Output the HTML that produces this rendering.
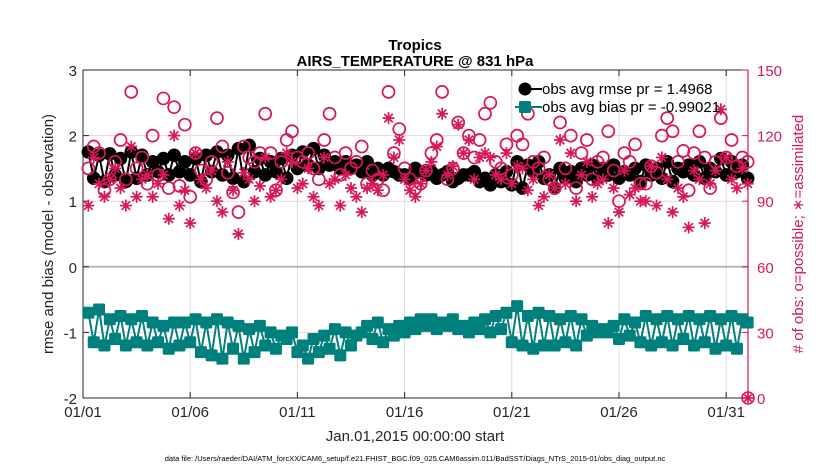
<!DOCTYPE html>
<html><head><meta charset="utf-8"><style>
body{margin:0;background:#fff;}
svg{display:block;font-family:"Liberation Sans",sans-serif;}
</style></head><body>
<svg id="chart" width="830" height="470" viewBox="0 0 830 470"></svg>
<script>
const rmse=[1.75,1.35,1.7,1.3,1.72,1.4,1.65,1.3, 1.75,1.35,1.7,1.4,1.6,1.45,1.65,1.4, 1.7,1.45,1.6,1.4,1.65,1.3,1.7,1.45, 1.75,1.4,1.7,1.35,1.8,1.3,1.85,1.45, 1.65,1.4,1.6,1.45,1.65,1.35,1.7,1.5, 1.75,1.55,1.8,1.5,1.7,1.55,1.6,1.5, 1.6,1.5,1.55,1.45,1.6,1.4,1.5,1.4, 1.5,1.45,1.4,1.4,1.35,1.5,1.45,1.4, 1.45,1.35,1.4,1.45,1.3,1.35,1.4,1.4, 1.45,1.3,1.35,1.25,1.4,1.3,1.45,1.25, 1.6,1.2,1.55,1.45,1.6,1.35,1.4,1.2, 1.5,1.35,1.45,1.3,1.5,1.4,1.55,1.35, 1.5,1.4,1.55,1.35,1.45,1.4,1.5,1.3, 1.55,1.4,1.5,1.35,1.6,1.3,1.5,1.45, 1.55,1.4,1.6,1.35,1.5,1.45,1.65,1.4, 1.6,1.45,1.55,1.35];
const bias=[-0.7,-1.15,-0.65,-1.2,-0.8,-1.1,-0.75,-1.2, -0.8,-1.15,-0.75,-1.2,-0.85,-1.15,-0.9,-1.25, -0.85,-1.2,-0.85,-1.15,-0.8,-1.3,-0.85,-1.35, -0.8,-1.4,-0.85,-1.25,-0.9,-1.4,-0.95,-1.3, -0.9,-1.2,-1.0,-1.25,-1.05,-1.1,-1.0,-1.3, -1.2,-1.4,-1.1,-1.3,-1.05,-1.25,-0.95,-1.35, -1.0,-1.2,-1.05,-1.0,-0.9,-1.1,-0.85,-1.15, -0.95,-1.05,-0.9,-1.0,-0.85,-0.95,-0.8,-0.9, -0.8,-0.95,-0.85,-0.9,-0.8,-0.95,-0.9,-1.0, -0.85,-0.95,-0.8,-1.0,-0.75,-0.95,-0.7,-1.15, -0.6,-1.2,-0.75,-1.25,-0.7,-1.2,-0.75,-1.2, -0.8,-1.15,-0.75,-1.2,-0.8,-1.05,-0.9,-1.0, -0.95,-1.0,-0.9,-1.1,-0.8,-1.05,-0.85,-1.15, -0.75,-1.2,-0.8,-1.15,-0.75,-1.2,-0.8,-1.1, -0.75,-1.2,-0.8,-1.15,-0.75,-1.25,-0.8,-1.2, -0.75,-1.25,-0.8,-0.85];
const possible=[105,115,112,95,100,108,118,100, 140,105,110,98,120,102,137,96, 133,97,125,92,112,104,100,108, 128,115,103,94,85,115,110,108, 112,130,112,95,108,118,122,110, 108,112,105,100,118,130,110,102, 112,105,108,115,98,104,100,95, 140,112,123,105,100,96,98,104, 112,118,140,100,105,126,112,120, 110,118,130,135,108,105,116,102, 120,116,130,108,105,110,100,96, 126,105,120,96,112,118,100,108, 110,122,104,90,112,108,116,98, 98,106,103,120,128,122,108,113, 95,112,122,110,96,108,128,110, 118,106,110,108];
const assim=[88,110,98,92,100,105,96,88, 115,92,100,102,92,98,102,82, 120,88,95,80,112,100,96,104, 90,85,108,95,75,103,100,90, 97,110,92,95,100,112,108,96, 98,105,92,88,110,98,100,88, 102,96,92,85,96,98,95,102, 128,110,118,100,95,92,98,104, 108,115,130,102,106,125,112,118, 100,110,112,110,102,100,112,98, 106,105,95,100,88,92,102,96, 118,98,112,90,102,108,92,98, 100,80,96,85,104,93,96,90, 90,106,88,110,100,85,96,92, 78,104,100,80,98,104,132,110, 100,96,105,98];
const xTickLabels=["01/01","01/06","01/11","01/16","01/21","01/26","01/31"];
const xTickDays=[0,5,10,15,20,25,30];
const leftTicks=[-2,-1,0,1,2,3];
const rightTicks=[0,30,60,90,120,150];

const L=83,R=748,T=70,B=398;
const X=d=>L+d*21.44;
const YL=v=>B-(v+2)/5*(B-T);
const YR=v=>B-v/150*(B-T);
const MAG="#d6175a",TEAL="#00807c";
const svg=document.getElementById('chart');
const NS="http://www.w3.org/2000/svg";
function mk(tag,attrs,parent){const e=document.createElementNS(NS,tag);for(const k in attrs)e.setAttribute(k,attrs[k]);(parent||svg).appendChild(e);return e;}
function txt(s,attrs){const e=mk('text',attrs);e.textContent=s;return e;}

xTickDays.forEach(d=>{const g=mk('line',{x1:X(d),x2:X(d),y1:T,y2:B,stroke:'#dddddd','stroke-width':1});

});
rightTicks.forEach(v=>{if(v===60||v===0||v===150)return;const g=mk('line',{x1:L,x2:R,y1:YR(v),y2:YR(v),stroke:'#f0d0dc','stroke-width':1});

});
const zl=mk('line',{x1:L,x2:R,y1:YL(0),y2:YL(0),stroke:'#b8b8b8','stroke-width':2});



const fr=mk('path',{d:`M${L},${B}V${T}H${R}`,fill:'none',stroke:'#262626','stroke-width':1});


const xb=mk('line',{x1:L,x2:R,y1:B,y2:B,stroke:'#262626','stroke-width':1});


const ra=mk('line',{x1:R,x2:R,y1:T,y2:B,stroke:MAG,'stroke-width':1.2});



xTickDays.forEach((d,i)=>{
 const t=mk('line',{x1:X(d),x2:X(d),y1:B,y2:B-6,stroke:'#262626'});
 
 
 const t2=mk('line',{x1:X(d),x2:X(d),y1:T,y2:T+6,stroke:'#262626'});
 
 
 const l=txt(xTickLabels[i],{x:X(d),y:B+19,'text-anchor':'middle','font-size':15,fill:'#262626'});
 
 
});
leftTicks.forEach(v=>{
 const t=mk('line',{x1:L,x2:L+6,y1:YL(v),y2:YL(v),stroke:'#262626'});
 
 
 const l=txt(String(v),{x:L-6,y:YL(v)+6,'text-anchor':'end','font-size':15,fill:'#262626'});
 
 
});
rightTicks.forEach(v=>{
 const t=mk('line',{x1:R-6,x2:R,y1:YR(v),y2:YR(v),stroke:MAG});
 
 
 const l=txt(String(v),{x:R+9,y:YR(v)+6,'font-size':15,fill:MAG});
 
 
});

const days=rmse.map((_,i)=>(i+1)*0.25);
function star(x,y,r,parent){const g=mk('g',{stroke:MAG,'stroke-width':1.7},parent);
 for(let k=0;k<4;k++){const a=k*Math.PI/4;mk('line',{x1:x-r*Math.cos(a),y1:y-r*Math.sin(a),x2:x+r*Math.cos(a),y2:y+r*Math.sin(a)},g);}return g;}

const gR=mk('g',{});


mk('polyline',{points:rmse.map((v,i)=>X(days[i])+','+YL(v)).join(' '),fill:'none',stroke:'#000','stroke-width':2},gR);
rmse.forEach((v,i)=>{const c=mk('circle',{cx:X(days[i]),cy:YL(v),r:6.8,fill:'#000'},gR);
 
 });
const gB=mk('g',{});


mk('polyline',{points:bias.map((v,i)=>X(days[i])+','+YL(v)).join(' '),fill:'none',stroke:TEAL,'stroke-width':2},gB);
bias.forEach((v,i)=>{const s=mk('rect',{x:X(days[i])-6,y:YL(v)-6,width:12,height:12,rx:1.5,fill:TEAL},gB);
 
 });
const gP=mk('g',{});


possible.forEach((v,i)=>{const c=mk('circle',{cx:X(days[i]),cy:YR(v),r:6,fill:'none',stroke:MAG,'stroke-width':1.7},gP);
 
 });
const gA=mk('g',{});


assim.forEach((v,i)=>{const s=star(X(days[i]),YR(v),6,gA);
 
 });
const zc=mk('circle',{cx:R,cy:B,r:6,fill:'none',stroke:MAG,'stroke-width':1.6});


star(R,B,5,svg);

const lg=mk('g',{});


mk('line',{x1:522,x2:542,y1:89,y2:89,stroke:'#000','stroke-width':2},lg);
mk('circle',{cx:525,cy:89,r:6.5,fill:'#000'},lg);
mk('line',{x1:515,x2:542,y1:107,y2:107,stroke:TEAL,'stroke-width':2},lg);
mk('rect',{x:519,y:101,width:12,height:12,rx:1.5,fill:TEAL},lg);
const le1=txt('obs avg rmse pr = 1.4968',{x:542,y:94,'font-size':15,fill:'#000'});


const le2=txt('obs avg bias pr = -0.99021',{x:542,y:112,'font-size':15,fill:'#000'});



const t1=txt('Tropics',{x:415,y:50,'text-anchor':'middle','font-size':15,'font-weight':'bold',fill:'#000'});


const t2=txt('AIRS_TEMPERATURE @ 831 hPa',{x:415,y:66,'text-anchor':'middle','font-size':15,'font-weight':'bold',fill:'#000'});


const yl=txt('rmse and bias (model - observation)',{x:0,y:0,'text-anchor':'middle','font-size':15,fill:'#262626',transform:`translate(53,234) rotate(-90)`});


const yr=txt('# of obs: o=possible; \u2217=assimilated',{x:0,y:0,'text-anchor':'middle','font-size':15,fill:MAG,transform:`translate(803,234) rotate(-90)`});


const xl=txt('Jan.01,2015 00:00:00 start',{x:415,y:441,'text-anchor':'middle','font-size':15,fill:'#262626'});


const df=txt('data file: /Users/raeder/DAI/ATM_forcXX/CAM6_setup/f.e21.FHIST_BGC.f09_025.CAM6assim.011/BadSST/Diags_NTrS_2015-01/obs_diag_output.nc',{x:415,y:461,'text-anchor':'middle','font-size':7.5,fill:'#000'});


</script>
</body></html>
